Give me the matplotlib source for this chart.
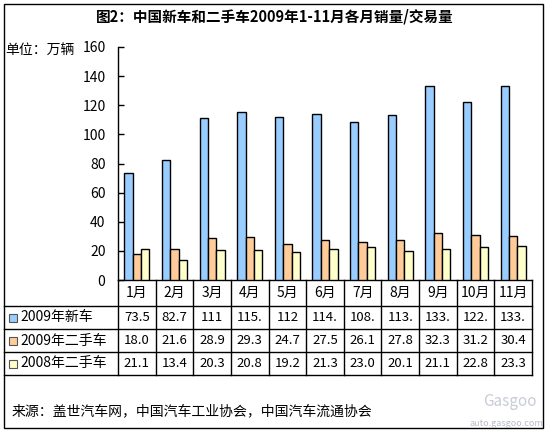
import matplotlib
matplotlib.use('Agg')
import matplotlib.pyplot as plt
import matplotlib.transforms as mtransforms
from matplotlib.patches import Rectangle
import numpy as np

plt.rcParams['font.family'] = ['Noto Sans CJK SC', 'DejaVu Sans']

months = ['1月', '2月', '3月', '4月', '5月', '6月', '7月', '8月', '9月', '10月', '11月']
series_names = ['2009年新车', '2009年二手车', '2008年二手车']
new_2009 = [73.5, 82.7, 111, 115.4, 112, 114.2, 108.3, 113.6, 133.2, 122.5, 133.5]
used_2009 = [18.0, 21.6, 28.9, 29.3, 24.7, 27.5, 26.1, 27.8, 32.3, 31.2, 30.4]
used_2008 = [21.1, 13.4, 20.3, 20.8, 19.2, 21.3, 23.0, 20.1, 21.1, 22.8, 23.3]
yticks = [0, 20, 40, 60, 80, 100, 120, 140, 160]

colors = ['#99CCFF', '#FFCC99', '#FFFFCC']
W, H = 547, 432

fig = plt.figure(figsize=(W / 100, H / 100), dpi=100)
# overlay in pixel coordinates (y down)
ov = fig.add_axes([0, 0, 1, 1])
ov.set_xlim(0, W)
ov.set_ylim(H, 0)
ov.axis('off')

# plot area
x0, x1, ytop, ybot = 118, 532, 47, 280
ax = fig.add_axes([x0 / W, (H - ybot) / H, (x1 - x0) / W, (ybot - ytop) / H])
ax.set_xlim(0, len(months))
ax.set_ylim(0, 160)
ax.patch.set_alpha(0)
for s in ['top', 'right', 'bottom']:
    ax.spines[s].set_visible(False)
ax.spines['left'].set_linewidth(1)
ax.set_xticks([])
ax.set_yticks(yticks)
ax.tick_params(axis='y', direction='in', length=4, width=1, pad=9, labelsize=10)

x = np.arange(len(months)) + 0.5
bw = 0.222
for i, vals in enumerate([new_2009, used_2009, used_2008]):
    ax.bar(x + (i - 1) * bw, vals, bw, color=colors[i], edgecolor='black', linewidth=1)

# data table under the axis
tr = mtransforms.blended_transform_factory(ax.transData, ov.transData)
rows = [280, 306, 329, 352, 375]
xe = np.arange(len(months) + 1)
ax_l = ax.get_xlim()
ov.plot([x0, x1], [rows[0], rows[0]], color='black', lw=1)
for r in rows[1:]:
    ov.plot([4, x1], [r, r], color='black', lw=1)
for e in xe:
    ov.plot([e, e], [rows[0], rows[-1]], color='black', lw=1, transform=tr)
for j, m in enumerate(months):
    ov.text(x[j], (rows[0] + rows[1]) / 2, m, ha='center', va='center', fontsize=10, transform=tr)

table_text = [[str(v)[:4] for v in new_2009],
              ['%.1f' % v for v in used_2009],
              ['%.1f' % v for v in used_2008]]
for i, name in enumerate(series_names):
    yc = (rows[i + 1] + rows[i + 2]) / 2
    ov.add_patch(Rectangle((9, yc - 4), 8, 8, facecolor=colors[i], edgecolor='#555555', lw=0.8))
    ov.text(20, yc, name, ha='left', va='center', fontsize=10)
    for j, t in enumerate(table_text[i]):
        ov.text(x[j], yc, t, ha='center', va='center', fontsize=9.5, transform=tr)

# texts
ov.text(275, 17, '图2：中国新车和二手车2009年1-11月各月销量/交易量', ha='center', va='center',
        fontsize=10.5, fontweight='bold')
ov.text(5, 51, '单位：万辆', ha='left', va='center', fontsize=10)
ov.text(12, 411, '来源：盖世汽车网，中国汽车工业协会，中国汽车流通协会', ha='left', va='center', fontsize=10)
ov.text(537, 402, 'Gasgoo', ha='right', va='center', fontsize=11, color='#C8CCD6')
ov.text(543, 424, 'auto.gasgoo.com', ha='right', va='center', fontsize=6.5, color='#B8BCC6')

# outer frame
ov.add_patch(Rectangle((4, 4), 539, 424, fill=False, edgecolor='black', lw=1))

fig.savefig('out.png', dpi=100)
